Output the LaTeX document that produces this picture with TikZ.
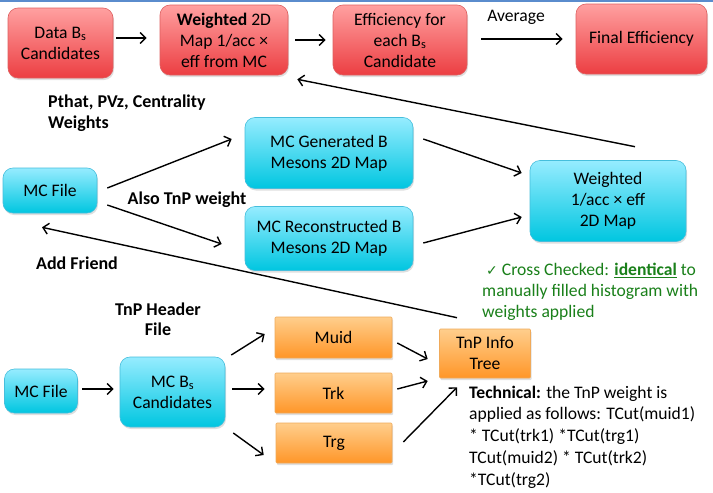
\documentclass[tikz,border=0pt]{standalone}
\usepackage{fontspec}
\setmainfont{Carlito}
\newfontfamily\dejavu{DejaVu Sans}
\usetikzlibrary{arrows.meta,shadows,calc}
\definecolor{redtop}{RGB}{255,160,160}
\definecolor{redbot}{RGB}{236,62,66}
\definecolor{redline}{RGB}{222,96,96}
\definecolor{cyantop}{RGB}{150,236,255}
\definecolor{cyanbot}{RGB}{0,198,224}
\definecolor{cyanline}{RGB}{70,190,220}
\definecolor{orgtop}{RGB}{255,206,140}
\definecolor{orgbot}{RGB}{255,150,40}
\definecolor{orgline}{RGB}{240,170,90}
\definecolor{okgreen}{RGB}{26,128,26}
\definecolor{topblue}{RGB}{90,140,205}
\tikzset{
  basebox/.style={align=center, inner sep=0pt, font=\fontsize{17.6}{21}\selectfont,
    drop shadow={opacity=0.25, shadow xshift=1pt, shadow yshift=-2pt}},
  redbox/.style={basebox, rounded corners=10pt, top color=redtop, bottom color=redbot, draw=redline, line width=0.6pt},
  cyanbox/.style={basebox, rounded corners=10pt, top color=cyantop, bottom color=cyanbot, draw=cyanline, line width=0.6pt},
  orgbox/.style={basebox, rounded corners=1pt, top color=orgtop, bottom color=orgbot, draw=orgline, line width=0.6pt},
  arr/.style={line width=1.4pt, -{Straight Barb[length=5.5pt,width=11pt]}},
  lbl/.style={inner sep=0pt, font=\fontsize{17.6}{21}\selectfont},
  blbl/.style={inner sep=0pt, font=\fontsize{18}{21}\selectfont\bfseries},
}
\begin{document}
\begin{tikzpicture}[x=1pt,y=-1pt]
\useasboundingbox (0,0) rectangle (713,493);
\fill[white] (0,0) rectangle (713,493);
\draw[topblue, line width=1.6pt] (0,0.8) -- (713,0.8);

% top row
\node[redbox, minimum width=105pt, minimum height=70pt] (d1) at (60.5,43) {Data B\textsubscript{s}\\Candidates};
\node[redbox, minimum width=128pt, minimum height=70pt] (w2) at (224,40) {\textbf{Weighted} 2D\\Map 1/acc ×\\eff from MC};
\node[redbox, minimum width=134pt, minimum height=70pt] (e3) at (400,40) {Efficiency for\\each B\textsubscript{s}\\Candidate};
\node[redbox, minimum width=131pt, minimum height=70pt] (f4) at (641.5,39) {Final Efficiency};

% middle
\node[cyanbox, minimum width=94pt, minimum height=45pt] (mc1) at (50,190.5) {MC File};
\node[cyanbox, minimum width=168pt, minimum height=71pt] (gen) at (329,153) {MC Generated B\\Mesons 2D Map};
\node[cyanbox, minimum width=168pt, minimum height=64pt] (reco) at (329,238.5) {MC Reconstructed B\\Mesons 2D Map};
\node[cyanbox, minimum width=156pt, minimum height=81pt] (wmap) at (608,201) {Weighted\\1/acc × eff\\2D Map};

% bottom
\node[cyanbox, minimum width=73pt, minimum height=44pt] (mc2) at (41,391) {MC File};
\node[cyanbox, minimum width=105pt, minimum height=70pt] (mcb) at (172.5,392) {MC B\textsubscript{s}\\Candidates};
\node[orgbox, minimum width=117pt, minimum height=41pt] (muid) at (333.5,337.5) {Muid};
\node[orgbox, minimum width=117pt, minimum height=40pt] (trk) at (333.5,393) {Trk};
\node[orgbox, minimum width=116pt, minimum height=40pt] (trg) at (334,443) {Trg};
\node[orgbox, minimum width=91pt, minimum height=49pt] (tnp) at (485,353.5) {TnP Info\\Tree};

% labels
\node[lbl] (avg) at (516,17) {Average};
\node[blbl, anchor=west, align=left] (pth) at (48,113) {Pthat, PVz, Centrality\\Weights};
\node[blbl] (also) at (187,200) {Also TnP weight};
\node[blbl] (addf) at (77,263) {Add Friend};
\node[blbl, align=center, font=\fontsize{18}{20}\selectfont\bfseries] (hdr) at (158,319) {TnP Header\\File};
\node[lbl, anchor=west, align=left, text=okgreen] (chk) at (482,291.5)
  {\hspace{4pt}{\dejavu\fontsize{14}{21}\selectfont ✓} Cross Checked: \underline{\textbf{identical}} to\\manually filled histogram with\\weights applied};
\node[lbl, anchor=west, align=left, font=\fontsize{17.6}{21.7}\selectfont] (tech) at (469,437)
  {\textbf{Technical:} the TnP weight is\\applied as follows: TCut(muid1)\\* TCut(trk1) *TCut(trg1)\\TCut(muid2) * TCut(trk2)\\*TCut(trg2)};

% connectors
\draw[arr] ($(d1.east)+(3,-5)$) -- ($(w2.west)+(-13,-2)$);
\draw[arr] ($(w2.east)+(7,0)$) -- ($(e3.west)+(-7,0)$);
\draw[arr] ($(e3.east)+(14,-1)$) -- ($(f4.west)+(-13,0)$);
\draw[arr] ($(wmap.north)+(27,-13.5)$) -- ($(w2.south east)+(9,4)$);
\draw[arr] ($(mc1.east)+(10,-2.5)$) -- ($(gen.west)+(-13,-14)$);
\draw[arr] ($(mc1.east)+(10,14.5)$) -- ($(reco.west)+(-23,5.5)$);
\draw[arr] ($(gen.east)+(10,-14)$) -- ($(wmap.west)+(-8,-28)$);
\draw[arr] ($(reco.east)+(10,4.5)$) -- ($(wmap.west)+(-8,16)$);
\draw[arr] ($(tnp.north)+(-28,-11)$) -- ($(mc1.south)+(-8,14)$);
\draw[arr] ($(mc2.east)+(4.5,-2)$) -- ($(mcb.west)+(-6,-3)$);
\draw[arr] ($(mcb.east)+(6,-37)$) -- ($(muid.west)+(-10,-3.5)$);
\draw[arr] ($(mcb.east)+(7,-3)$) -- ($(trk.west)+(-10,-4)$);
\draw[arr] ($(mcb.east)+(8,41)$) -- ($(trg.west)+(-12,12)$);
\draw[arr] ($(muid.east)+(5,5.5)$) -- ($(tnp.west)+(-11.5,5.5)$);
\draw[arr] ($(trk.east)+(5,-4)$) -- ($(tnp.west)+(-11.5,27.5)$);
\draw[arr] ($(trg.east)+(11,-1)$) -- ($(tnp.south)+(-28,9)$);
\end{tikzpicture}
\end{document}
